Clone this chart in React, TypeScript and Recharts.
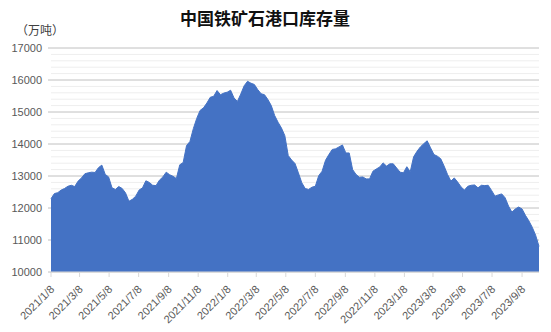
import { AreaChart, Area, XAxis, YAxis, CartesianGrid } from "recharts";

// weekly port inventory, 10k tonnes, from 2021/1/8
const startDay = "2021/1/8";
const inventory = [
  12290, 12450, 12480, 12560, 12610, 12680, 12710, 12670, 12840, 12940,
  13070, 13100, 13120, 13110, 13260, 13340, 13050, 12970, 12630, 12580,
  12670, 12610, 12470, 12210, 12270, 12370, 12560, 12630, 12850, 12800,
  12710, 12700, 12870, 12970, 13120, 13040, 12990, 12920, 13350, 13420,
  13950, 14080, 14480, 14800, 15050, 15130, 15280, 15460, 15490, 15670,
  15540, 15590, 15620, 15680, 15440, 15330, 15560, 15820, 15960, 15900,
  15860, 15700, 15570, 15540, 15390, 15200, 14890, 14680, 14500, 14260,
  13640, 13500, 13390, 13100, 12790, 12610, 12580, 12650, 12680, 13010,
  13150, 13490, 13670, 13830, 13850, 13910, 13970, 13720, 13720, 13200,
  13050, 12960, 12970, 12910, 12910, 13150, 13220, 13280, 13410, 13310,
  13380, 13380, 13250, 13120, 13100, 13290, 13130, 13600, 13770, 13910,
  14010, 14100, 13880, 13670, 13620, 13540, 13310, 13050, 12840, 12940,
  12810, 12660, 12560, 12680, 12710, 12720, 12630, 12710, 12700, 12710,
  12550, 12370, 12410, 12440, 12320, 12060, 11870, 11970, 12030, 11970,
  11770, 11600, 11400, 11150, 10800,
];

const tickLabels = [
  "2021/1/8", "2021/3/8", "2021/5/8", "2021/7/8", "2021/9/8", "2021/11/8",
  "2022/1/8", "2022/3/8", "2022/5/8", "2022/7/8", "2022/9/8", "2022/11/8",
  "2023/1/8", "2023/3/8", "2023/5/8", "2023/7/8", "2023/9/8",
];
const yTicks = [10000, 11000, 12000, 13000, 14000, 15000, 16000, 17000];

const DAY = 86400000;
const toTime = (s: string) => {
  const [y, m, d] = s.split("/").map(Number);
  return Date.UTC(y, m - 1, d);
};
const fmt = (t: number) => {
  const d = new Date(t);
  return `${d.getUTCFullYear()}/${d.getUTCMonth() + 1}/${d.getUTCDate()}`;
};

const t0 = toTime(startDay);
const data = inventory.map((v, i) => ({ t: t0 + i * 7 * DAY, v }));
const xTicks = tickLabels.map(toTime);

const minorTicks: number[] = [];
for (let v = 10200; v < 17000; v += 200) if (v % 1000 !== 0) minorTicks.push(v);

const axisText = "#595959";
const font = "'Liberation Sans', Arial, sans-serif";

function DateTick(props: any) {
  const { x, y, payload } = props;
  return (
    <g transform={`translate(${x + 4},${y + 13})`}>
      <text x={0} y={0} transform="rotate(-45)" textAnchor="end" fontSize={11} fill={axisText} fontFamily={font}>
        {fmt(payload.value)}
      </text>
    </g>
  );
}

export default function App() {
  return (
    <div style={{ position: "absolute", left: 0, top: 0, width: 551, height: 332, background: "#fff" }}>
      <div
        style={{
          position: "absolute", left: 0, width: 530, top: 5, textAlign: "center",
          fontFamily: "'Noto Sans CJK SC', sans-serif", fontWeight: 700, fontSize: 17, color: "#111",
        }}
      >
        中国铁矿石港口库存量
      </div>
      <div
        style={{
          position: "absolute", left: 16, top: 21, fontSize: 12, color: "#404040",
          fontFamily: "'Noto Sans CJK SC', sans-serif",
        }}
      >
        （万吨）
      </div>
      <AreaChart width={551} height={332} data={data} margin={{ top: 48, right: 12, left: 0, bottom: 5 }}>
        <CartesianGrid
          vertical={false}
          stroke="#eeeeee"
          horizontalCoordinatesGenerator={({ yAxis, offset }: any) =>
            minorTicks.map((v) =>
              yAxis && typeof yAxis.scale === "function"
                ? yAxis.scale(v)
                : offset.top + (offset.height * (17000 - v)) / 7000
            )
          }
        />
        <CartesianGrid vertical={false} stroke="#c0c0c0" />
        <XAxis
          dataKey="t"
          type="number"
          domain={[data[0].t, data[data.length - 1].t]}
          ticks={xTicks}
          interval={0}
          height={55}
          tickSize={5}
          tickMargin={0}
          tick={<DateTick />}
          stroke="#d9d9d9"
        />
        <YAxis
          domain={[10000, 17000]}
          ticks={yTicks}
          width={51}
          axisLine={false}
          tickSize={3}
          tickMargin={6}
          tickLine={{ stroke: "#c0c0c0" }}
          tick={{ fontSize: 11, fill: axisText, fontFamily: font }}
          interval={0}
        />
        <Area
          type="linear"
          dataKey="v"
          stroke="#4472c4"
          strokeWidth={1}
          fill="#4472c4"
          fillOpacity={1}
          dot={false}
          activeDot={false}
          isAnimationActive={false}
        />
      </AreaChart>
    </div>
  );
}
